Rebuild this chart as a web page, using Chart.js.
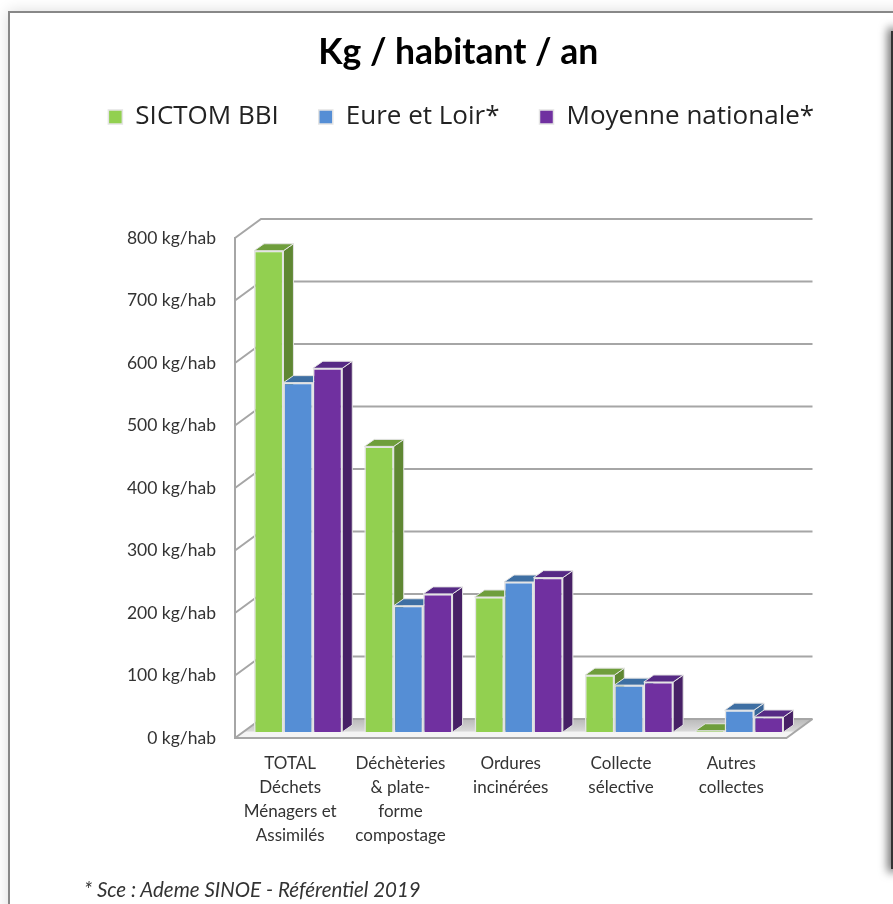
<!DOCTYPE html>
<html lang="fr">
<head>
<meta charset="utf-8">
<title>Kg / habitant / an</title>
<script src="https://cdn.jsdelivr.net/npm/chart.js@4"></script>
<style>
    html, body { margin: 0; height: 100%; overflow: hidden; background: #fff; }
    .card {
        position: absolute; left: 8px; top: 11px; width: 900px; height: 920px;
        border: 2px solid #888; background: #fff;
        box-shadow: 0 0 14px rgba(0, 0, 0, .14);
    }
    .edge {
        position: absolute; left: 891px; top: 31px; width: 4px; height: 838px;
        background: #333; box-shadow: 0 0 10px 3px rgba(0, 0, 0, .6);
    }
    canvas { position: absolute; left: 0; top: 0; }
    .source {
        position: absolute; left: 84px; top: 877px;
        font: italic 20.5px Lato, sans-serif; color: #333; white-space: nowrap;
    }
</style>
</head>
<body>
<div class="card"></div>
<div class="edge"></div>
<canvas id="chart" width="893" height="904"></canvas>
<div class="source">* Sce : Ademe SINOE - Référentiel 2019</div>

<script>
    const categories = [
        ["TOTAL", "Déchets", "Ménagers et", "Assimilés"],
        ["Déchèteries", "& plate-", "forme", "compostage"],
        ["Ordures", "incinérées"],
        ["Collecte", "sélective"],
        ["Autres", "collectes"]
    ];
    const sictom = [770, 457, 216, 91, 2];
    const eureLoir = [559, 202, 240, 75, 35];
    const moyenne = [582, 221, 247, 80, 24];
    const seriesNames = ["SICTOM BBI", "Eure et Loir*", "Moyenne nationale*"];
    const yTicksStep = 100;
    const yMax = 800;

    const frontColors = ["#92D050", "#558ED5", "#7030A0"];
    const topColors = ["#6F9E3C", "#3E6FA3", "#562A85"];
    const sideColors = ["#5F8733", "#386596", "#472066"];
    const edgeColor = "#e4e4e4";
    const gridColor = "#a6a6a6";

    // chart area is the front plane of the 3d box
    const PLOT = {left: 235, right: 786.5, top: 238, bottom: 738};
    const WALL = {dx: 26, dy: -19};
    const BAR_SHIFT = {dx: 8, dy: -6};
    const BAR_DEPTH = {dx: 10, dy: -7};

    const LEGEND_FONT = 26;
    const LEGEND_GAP = 40;
    const TITLE_LINE = 40;
    const TITLE_TOP = 33;

    const box3d = {
        id: 'box3d',
        afterLayout(chart) {
            // title and legend are not centred on the canvas in the original
            chart.titleBlock.left += 65;
            chart.titleBlock.right += 65;
            const h = chart.legend.bottom - chart.legend.top;
            chart.legend.top = 64;
            chart.legend.bottom = chart.legend.top + h;
            chart.legend.left += 68;
            chart.legend.right += 68;
        },
        beforeDraw(chart) {
            const {ctx, scales: {y}, chartArea: a} = chart;
            const base = a.bottom;

            // floor
            ctx.save();
            let g = ctx.createLinearGradient(0, base + WALL.dy, 0, base);
            g.addColorStop(0, "#b9b9b9");
            g.addColorStop(0.62, "#d8d8d8");
            g.addColorStop(0.7, "#f4f4f4");
            g.addColorStop(1, "#f4f4f4");
            ctx.fillStyle = g;
            ctx.beginPath();
            ctx.moveTo(a.left, base);
            ctx.lineTo(a.left + WALL.dx, base + WALL.dy);
            ctx.lineTo(a.right + WALL.dx, base + WALL.dy);
            ctx.lineTo(a.right, base);
            ctx.closePath();
            ctx.fill();

            // back wall grid, with the slanted part going to the front axis
            ctx.strokeStyle = gridColor;
            ctx.lineWidth = 2;
            y.ticks.forEach((t, i) => {
                const py = y.getPixelForTick(i);
                ctx.beginPath();
                ctx.moveTo(a.left, py);
                ctx.lineTo(a.left + WALL.dx, py + WALL.dy);
                ctx.lineTo(a.right + WALL.dx, py + WALL.dy);
                ctx.stroke();
            });
            ctx.beginPath();
            ctx.moveTo(a.right, base);
            ctx.lineTo(a.right + WALL.dx, base + WALL.dy);
            ctx.stroke();
            ctx.restore();
        },
        beforeDatasetsDraw(chart) {
            const {ctx} = chart;
            ctx.save();
            ctx.translate(BAR_SHIFT.dx, BAR_SHIFT.dy);
            ctx.lineWidth = 1;
            ctx.strokeStyle = edgeColor;
            for (let i = 0; i < categories.length; i++) {
                for (let d = 0; d < chart.data.datasets.length; d++) {
                    const bar = chart.getDatasetMeta(d).data[i];
                    const l = bar.x - bar.width / 2;
                    const r = bar.x + bar.width / 2;
                    const dx = BAR_DEPTH.dx, dy = BAR_DEPTH.dy;

                    // side
                    ctx.fillStyle = sideColors[d];
                    ctx.beginPath();
                    ctx.moveTo(r, bar.y);
                    ctx.lineTo(r + dx, bar.y + dy);
                    ctx.lineTo(r + dx, bar.base + dy);
                    ctx.lineTo(r, bar.base);
                    ctx.closePath();
                    ctx.fill();
                    ctx.stroke();

                    // top
                    ctx.fillStyle = topColors[d];
                    ctx.beginPath();
                    ctx.moveTo(l, bar.y);
                    ctx.lineTo(l + dx, bar.y + dy);
                    ctx.lineTo(r + dx, bar.y + dy);
                    ctx.lineTo(r, bar.y);
                    ctx.closePath();
                    ctx.fill();
                    ctx.stroke();

                    bar.draw(ctx);
                }
            }
            ctx.restore();
            // bars are painted left to right here, not the default order
            return false;
        }
    };

    new Chart(document.getElementById('chart'), {
        type: 'bar',
        plugins: [box3d],
        data: {
            labels: categories,
            datasets: [sictom, eureLoir, moyenne].map((values, d) => ({
                label: seriesNames[d],
                data: values,
                backgroundColor: frontColors[d],
                borderColor: edgeColor,
                borderWidth: 1.5,
                barPercentage: 1,
                categoryPercentage: 0.8
            }))
        },
        options: {
            responsive: false,
            animation: false,
            layout: {
                padding: {left: 0, top: 0, bottom: 0, right: 893 - PLOT.right}
            },
            plugins: {
                tooltip: {enabled: false},
                title: {
                    display: true,
                    text: "Kg / habitant / an",
                    color: "#000",
                    font: {family: "Lato", size: 35.5, weight: "bold", lineHeight: TITLE_LINE / 35.5},
                    padding: {
                        top: TITLE_TOP,
                        bottom: PLOT.top - TITLE_TOP - TITLE_LINE - (LEGEND_FONT + LEGEND_GAP + 10)
                    }
                },
                legend: {
                    position: 'top',
                    labels: {
                        color: "#222",
                        font: {family: "'Open Sans'", size: LEGEND_FONT},
                        boxWidth: 14,
                        boxHeight: 14,
                        padding: LEGEND_GAP
                    }
                }
            },
            scales: {
                x: {
                    afterFit(scale) { scale.height = 904 - PLOT.bottom; },
                    grid: {display: false},
                    border: {color: gridColor, width: 2},
                    ticks: {
                        color: "#333",
                        font: {family: "Lato", size: 17, lineHeight: 1.4},
                        padding: 6,
                        maxRotation: 0,
                        autoSkip: false
                    }
                },
                y: {
                    afterFit(scale) { scale.width = PLOT.left; },
                    min: 0,
                    max: yMax,
                    grid: {display: false},
                    border: {color: gridColor, width: 2},
                    ticks: {
                        stepSize: yTicksStep,
                        color: "#333",
                        font: {family: "Lato", size: 17.5},
                        padding: 11,
                        callback: (v) => v + " kg/hab"
                    }
                }
            }
        }
    });
</script>
</body>
</html>
